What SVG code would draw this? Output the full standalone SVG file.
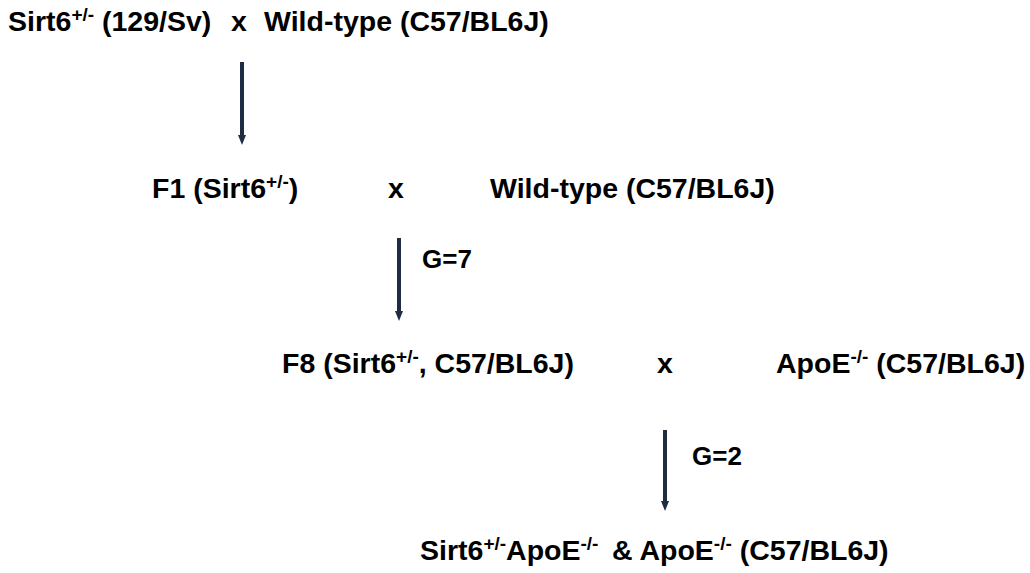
<svg xmlns="http://www.w3.org/2000/svg" width="1030" height="573" viewBox="0 0 1030 573">
<defs>
<style>
text{font-family:"Liberation Sans",Arial,sans-serif;font-weight:bold;font-size:28.5px;fill:#000}
.sup{font-size:19px}
.g{font-size:26px}
.conn line{stroke:#1f2d44;stroke-width:4}
</style>
<marker id="ah" viewBox="0 0 10 8" refX="5" refY="4" markerWidth="10" markerHeight="8" markerUnits="userSpaceOnUse" orient="auto">
<path d="M0,0 L10,4 L0,8 Z" fill="#1f2d44"/>
</marker>
</defs>
<rect width="1030" height="573" fill="#fff"/>
<g id="n1"><text x="8" y="31">Sirt6<tspan class="sup" dy="-10">+/-</tspan><tspan dy="10"> (129/Sv)</tspan></text><text x="231" y="31">x</text><text x="264" y="31">Wild-type (C57/BL6J)</text></g>
<g id="n2"><text x="152" y="198">F1 (Sirt6<tspan class="sup" dy="-10">+/-</tspan><tspan dy="10">)</tspan></text></g>
<g id="n3"><text x="388" y="198">x</text></g>
<g id="n4"><text x="490" y="198">Wild-type (C57/BL6J)</text></g>
<g id="n5"><text class="g" x="422" y="268">G=7</text></g>
<g id="n6"><text x="282" y="373">F8 (Sirt6<tspan class="sup" dy="-10">+/-</tspan><tspan dy="10">, C57/BL6J)</tspan></text></g>
<g id="n7"><text x="657" y="373">x</text></g>
<g id="n8"><text x="776" y="373">ApoE<tspan class="sup" dy="-10">-/-</tspan><tspan dy="10"> (C57/BL6J)</tspan></text></g>
<g id="n9"><text class="g" x="692" y="465">G=2</text></g>
<g id="n10"><text x="420" y="560">Sirt6<tspan class="sup" dy="-10">+/-</tspan><tspan dy="10">ApoE</tspan><tspan class="sup" dy="-10">-/-</tspan></text><text x="612" y="560">&amp; ApoE<tspan class="sup" dy="-10">-/-</tspan><tspan dy="10"> (C57/BL6J)</tspan></text></g>
<g class="conn">
<line x1="242" y1="62" x2="242" y2="140" marker-end="url(#ah)"/>
<line x1="399" y1="238" x2="399" y2="316" marker-end="url(#ah)"/>
<line x1="665" y1="430" x2="665" y2="506" marker-end="url(#ah)"/>
</g>
</svg>
